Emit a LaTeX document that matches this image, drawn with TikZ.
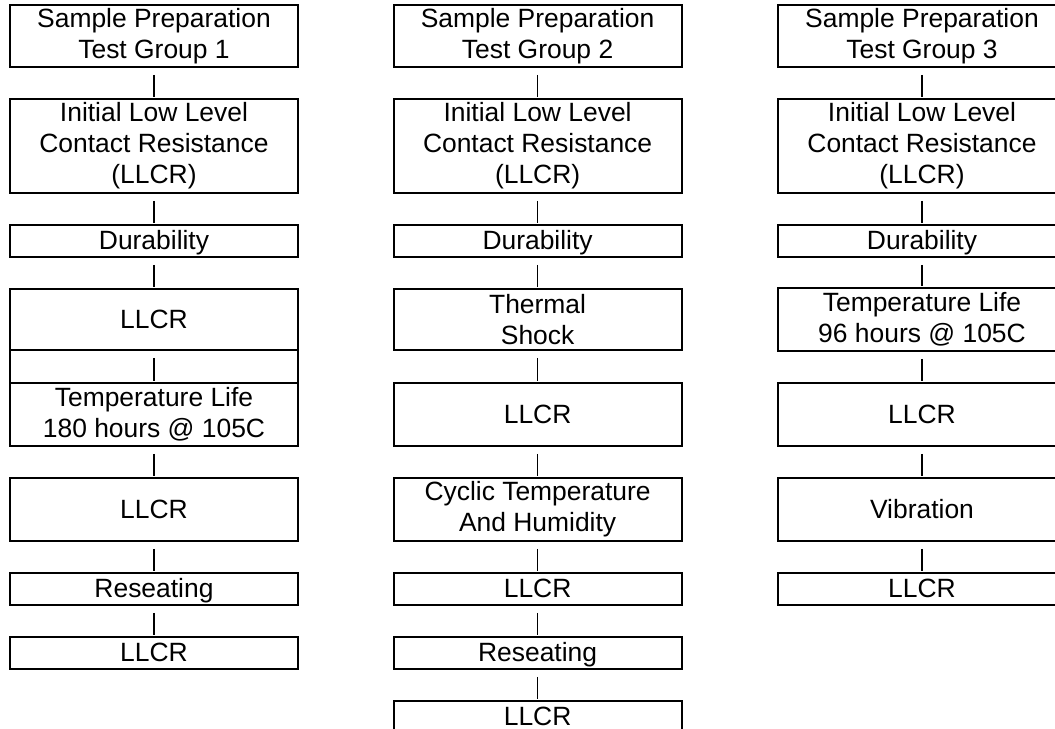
\documentclass[tikz,border=0pt]{standalone}
\usepackage{fontspec}
\setmainfont{Liberation Sans}
\tikzset{
  stage/.style={draw=black, line width=1.4pt, minimum width=7.2cm, inner sep=0pt, align=center, font=\fontsize{18.8}{22}\selectfont},
  oneline/.style={text height=0.45cm, text depth=0pt},
  smallstage/.style={stage, oneline, minimum height=0.8cm},
  midstage/.style={stage, minimum height=1.55cm},
  link/.style={draw=black, line width=0.8pt, shorten <=0.175cm, shorten >=0.025cm},
}
\begin{document}
\begin{tikzpicture}
\useasboundingbox (0,0) rectangle (26.375,18.225);
\node[midstage] (g1a) at (3.85,17.325) {Sample Preparation\\Test Group 1};
\node[stage, minimum height=2.35cm] (g1b) at (3.85,14.575) {Initial Low Level\\Contact Resistance\\(LLCR)};
\node[smallstage] (g1c) at (3.85,12.2) {Durability};
\node[stage, oneline, minimum height=1.525cm] (g1d) at (3.85,10.2375) {LLCR};
\node[stage, minimum height=0.825cm] (g1gap) at (3.85,9.0625) {};
\node[stage, minimum height=1.575cm] (g1e) at (3.85,7.8625) {Temperature Life\\180 hours @ 105C};
\node[stage, oneline, minimum height=1.575cm] (g1f) at (3.85,5.4875) {LLCR};
\node[smallstage] (g1g) at (3.85,3.5) {Reseating};
\node[smallstage] (g1h) at (3.85,1.9) {LLCR};
\node[midstage] (g2a) at (13.44,17.325) {Sample Preparation\\Test Group 2};
\node[stage, minimum height=2.35cm] (g2b) at (13.44,14.575) {Initial Low Level\\Contact Resistance\\(LLCR)};
\node[smallstage] (g2c) at (13.44,12.2) {Durability};
\node[stage, minimum height=1.525cm] (g2d) at (13.44,10.2375) {Thermal\\Shock};
\node[stage, oneline, minimum height=1.575cm] (g2e) at (13.44,7.8625) {LLCR};
\node[stage, minimum height=1.575cm] (g2f) at (13.44,5.4875) {Cyclic Temperature\\And Humidity};
\node[smallstage] (g2g) at (13.44,3.5) {LLCR};
\node[smallstage] (g2h) at (13.44,1.9) {Reseating};
\node[smallstage] (g2i) at (13.44,0.3) {LLCR};
\node[midstage] (g3a) at (23.05,17.325) {Sample Preparation\\Test Group 3};
\node[stage, minimum height=2.35cm] (g3b) at (23.05,14.575) {Initial Low Level\\Contact Resistance\\(LLCR)};
\node[smallstage] (g3c) at (23.05,12.2) {Durability};
\node[stage, minimum height=1.575cm] (g3d) at (23.05,10.2375) {Temperature Life\\96 hours @ 105C};
\node[stage, oneline, minimum height=1.575cm] (g3e) at (23.05,7.8625) {LLCR};
\node[stage, oneline, minimum height=1.575cm] (g3f) at (23.05,5.4875) {Vibration};
\node[smallstage] (g3g) at (23.05,3.5) {LLCR};
\draw[link] (g1a.south) -- (g1b.north);
\draw[link] (g1b.south) -- (g1c.north);
\draw[link] (g1c.south) -- (g1d.north);
\draw[link] (g1d.south) -- (g1e.north);
\draw[link] (g1e.south) -- (g1f.north);
\draw[link] (g1f.south) -- (g1g.north);
\draw[link] (g1g.south) -- (g1h.north);
\draw[link] (g2a.south) -- (g2b.north);
\draw[link] (g2b.south) -- (g2c.north);
\draw[link] (g2c.south) -- (g2d.north);
\draw[link] (g2d.south) -- (g2e.north);
\draw[link] (g2e.south) -- (g2f.north);
\draw[link] (g2f.south) -- (g2g.north);
\draw[link] (g2g.south) -- (g2h.north);
\draw[link] (g2h.south) -- (g2i.north);
\draw[link] (g3a.south) -- (g3b.north);
\draw[link] (g3b.south) -- (g3c.north);
\draw[link] (g3c.south) -- (g3d.north);
\draw[link] (g3d.south) -- (g3e.north);
\draw[link] (g3e.south) -- (g3f.north);
\draw[link] (g3f.south) -- (g3g.north);
\end{tikzpicture}
\end{document}
